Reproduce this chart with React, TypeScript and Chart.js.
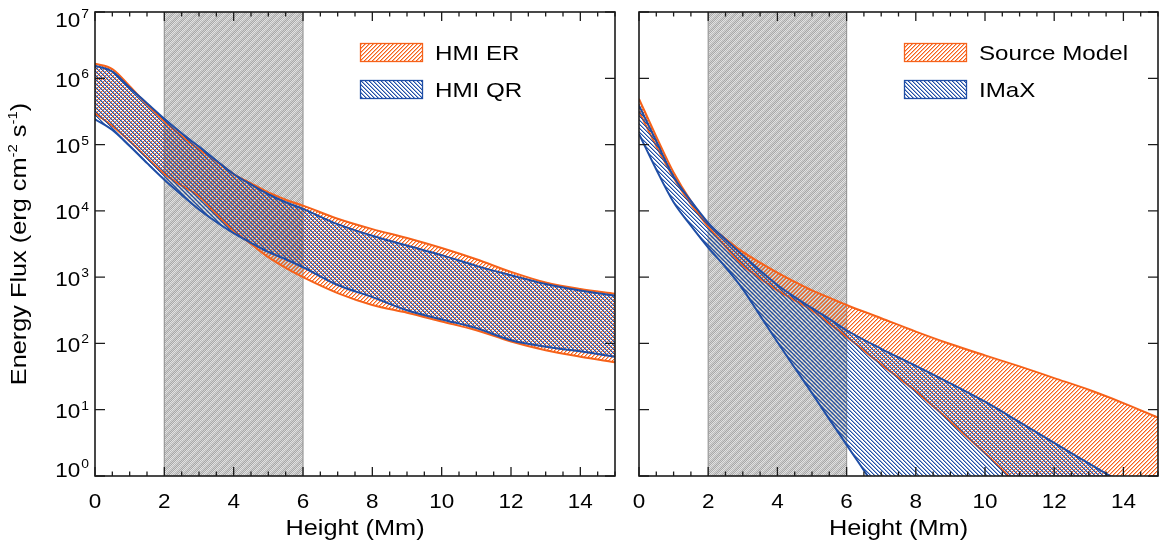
import React, { useEffect, useRef } from "react";
import { Chart, registerables } from "chart.js";

Chart.register(...registerables);

// ---------------- data ----------------
const HEIGHT_LEFT = [0, 0.5, 1, 1.5, 2, 2.5, 3, 3.5, 4, 4.5, 5, 5.5, 6, 7, 8, 9, 10, 11, 12, 13, 14, 15];
const HMI_ER_UPPER = [1.66e6, 1.38e6, 7.6e5, 4.0e5, 2.24e5, 1.35e5, 8.5e4, 5.6e4, 3.6e4, 2.6e4, 1.9e4, 1.48e4, 1.2e4, 7.6e3, 5.3e3, 3.9e3, 2.75e3, 1.86e3, 1.2e3, 830, 660, 560];
const HMI_ER_LOWER = [2.95e5, 1.9e5, 1.12e5, 6.3e4, 3.6e4, 2.4e4, 1.66e4, 8.9e3, 5.0e3, 3.16e3, 2.0e3, 1.38e3, 1.0e3, 575, 380, 290, 214, 158, 107, 79, 63, 52];
const HMI_QR_UPPER = [1.55e6, 1.26e6, 7.2e5, 4.2e5, 2.45e5, 1.48e5, 9.3e4, 5.75e4, 3.6e4, 2.5e4, 1.78e4, 1.35e4, 1.07e4, 6.3e3, 4.2e3, 3.0e3, 2.15e3, 1.48e3, 1.07e3, 790, 630, 525];
const HMI_QR_LOWER = [2.4e5, 1.66e5, 9.5e4, 5.25e4, 2.95e4, 1.74e4, 1.05e4, 6.8e3, 4.6e3, 3.3e3, 2.4e3, 1.86e3, 1.41e3, 760, 500, 316, 230, 170, 112, 89, 76, 63];

const HEIGHT_RIGHT = [0, 0.5, 1, 1.5, 2, 2.5, 3, 3.5, 4, 4.5, 5, 5.5, 6, 7, 8, 9, 10, 11, 12, 13, 14, 15];
const SOURCE_UPPER = [4.9e5, 1.32e5, 3.8e4, 1.41e4, 6.3e3, 3.8e3, 2.4e3, 1.66e3, 1.17e3, 850, 630, 490, 380, 240, 151, 98, 66, 45, 30, 20, 12.6, 7.6];
const SOURCE_LOWER = [3.16e5, 9.5e4, 3.16e4, 1.26e4, 5.75e3, 2.9e3, 1.51e3, 955, 630, 447, 316, 200, 126, 48, 19, 6.6, 2.2, 0.68, 0.2, 0.063, 0.02, 0.0063];
const IMAX_UPPER = [3.9e5, 1.12e5, 3.3e4, 1.41e4, 6.6e3, 3.7e3, 2.14e3, 1.26e3, 760, 500, 340, 234, 158, 83, 46, 25, 13.2, 6.5, 3.16, 1.55, 0.76, 0.37];
const IMAX_LOWER = [1.45e5, 4.2e4, 1.35e4, 6.0e3, 2.8e3, 1.41e3, 660, 263, 105, 43, 17.8, 7.2, 2.95, 0.5, 0.08, 0.0126, 0.002, 3e-4, 5e-5, 8e-6, 1.3e-6, 2e-7];

const X_TICKS = [0, 2, 4, 6, 8, 10, 12, 14];
const X_MINOR_STEP = 0.5;
const X_RANGE = [0, 15];
const Y_EXPONENTS = [0, 1, 2, 3, 4, 5, 6, 7];
const SHADE_RANGE = [2, 6];
const X_TITLE = "Height (Mm)";
const Y_TITLE_PARTS: [string, boolean][] = [
  ["Energy Flux (erg cm", false],
  ["-2", true],
  [" s", false],
  ["-1", true],
  [")", false],
];

// ---------------- styles ----------------
const ORANGE = "#f6621a";
const BLUE = "#1f4ea6";
const FONT_FAMILY = '"Liberation Sans", Arial, Helvetica, sans-serif';
const TEXT_STRETCH = 1.15;
const TICK_STRETCH = 1.07;

function hexToRgb(hex: string): [number, number, number] {
  const n = parseInt(hex.slice(1), 16);
  return [(n >> 16) & 255, (n >> 8) & 255, n & 255];
}

function makeHatch(ctx: CanvasRenderingContext2D, color: string, dir: "/" | "\\") {
  const c = document.createElement("canvas");
  c.width = 4;
  c.height = 4;
  const g = c.getContext("2d")!;
  const img = g.createImageData(4, 4);
  const [r, gg, b] = hexToRgb(color);
  for (let y = 0; y < 4; y++) {
    for (let x = 0; x < 4; x++) {
      const k = dir === "/" ? (x + y) % 4 : (((x - y) % 4) + 4) % 4;
      const a = k === 0 ? 255 : k === 1 ? 120 : 0;
      const i = (y * 4 + x) * 4;
      img.data[i] = r;
      img.data[i + 1] = gg;
      img.data[i + 2] = b;
      img.data[i + 3] = a;
    }
  }
  g.putImageData(img, 0, 0);
  return ctx.createPattern(c, "repeat")!;
}

function makeGray(ctx: CanvasRenderingContext2D) {
  const c = document.createElement("canvas");
  c.width = 8;
  c.height = 8;
  const g = c.getContext("2d")!;
  const img = g.createImageData(8, 8);
  for (let y = 0; y < 8; y++) {
    for (let x = 0; x < 8; x++) {
      const parity = (x + y) & 1;
      const band = (x + y) % 8 < 4;
      const v = band ? (parity ? 168 : 210) : parity ? 186 : 226;
      const i = (y * 8 + x) * 4;
      img.data[i] = v;
      img.data[i + 1] = v;
      img.data[i + 2] = v;
      img.data[i + 3] = 255;
    }
  }
  g.putImageData(img, 0, 0);
  return ctx.createPattern(c, "repeat")!;
}

function drawText(
  ctx: CanvasRenderingContext2D,
  text: string,
  x: number,
  y: number,
  size: number,
  align: "left" | "center" | "right",
  sx: number
) {
  ctx.save();
  ctx.font = `${size}px ${FONT_FAMILY}`;
  const w = ctx.measureText(text).width * sx;
  const left = align === "center" ? x - w / 2 : align === "right" ? x - w : x;
  ctx.translate(left, y);
  ctx.scale(sx, 1);
  ctx.textAlign = "left";
  ctx.textBaseline = "alphabetic";
  ctx.fillStyle = "#000";
  ctx.fillText(text, 0, 0);
  ctx.restore();
  return w;
}

function textWidth(ctx: CanvasRenderingContext2D, text: string, size: number, sx: number) {
  ctx.save();
  ctx.font = `${size}px ${FONT_FAMILY}`;
  const w = ctx.measureText(text).width * sx;
  ctx.restore();
  return w;
}

type Band = {
  label: string;
  upper: number[];
  lower: number[];
  color: string;
  dir: "/" | "\\";
};

type PanelProps = {
  left: number;
  width: number;
  heights: number[];
  bands: Band[]; // first band drawn on top
  legendOrder: number[];
  showYLabels: boolean;
  yAxisWidth: number;
  padRight: number;
};

function Panel({ left, width, heights, bands, legendOrder, showYLabels, yAxisWidth, padRight }: PanelProps) {
  const ref = useRef<HTMLCanvasElement>(null);

  useEffect(() => {
    const canvas = ref.current!;
    const ctx = canvas.getContext("2d")!;
    const patterns = bands.map((b) => makeHatch(ctx, b.color, b.dir));
    const gray = makeGray(ctx);

    const datasets: any[] = [];
    bands.forEach((b, i) => {
      datasets.push({
        label: b.label,
        data: heights.map((h, k) => ({ x: h, y: b.upper[k] })),
        borderColor: b.color,
        borderWidth: 2,
        backgroundColor: patterns[i],
        fill: "+1",
        pointRadius: 0,
        cubicInterpolationMode: "monotone",
        clip: 0,
      });
      datasets.push({
        label: b.label + " (lower)",
        data: heights.map((h, k) => ({ x: h, y: b.lower[k] })),
        borderColor: b.color,
        borderWidth: 2,
        backgroundColor: "transparent",
        fill: false,
        pointRadius: 0,
        cubicInterpolationMode: "monotone",
        clip: 0,
      });
    });

    const decor = {
      id: "panelDecor",
      beforeDatasetsDraw(chart: any) {
        const { ctx: c, chartArea: a, scales } = chart;
        const xs = scales.x;
        const x0 = xs.getPixelForValue(SHADE_RANGE[0]);
        const x1 = xs.getPixelForValue(SHADE_RANGE[1]);
        c.save();
        c.fillStyle = gray;
        c.fillRect(x0, a.top, x1 - x0, a.bottom - a.top);
        c.strokeStyle = "#999999";
        c.lineWidth = 1.2;
        c.beginPath();
        c.moveTo(x0, a.top);
        c.lineTo(x0, a.bottom);
        c.moveTo(x1, a.top);
        c.lineTo(x1, a.bottom);
        c.stroke();
        c.restore();
      },
      afterDraw(chart: any) {
        const { ctx: c, chartArea: a, scales } = chart;
        const xs = scales.x;
        const ys = scales.y;
        c.save();
        // frame
        c.strokeStyle = "#1c1c1c";
        c.lineWidth = 1.6;
        c.strokeRect(a.left, a.top, a.right - a.left, a.bottom - a.top);
        // x ticks (major + minor), bottom and top, pointing inward
        c.lineWidth = 1.3;
        c.beginPath();
        for (let v = X_RANGE[0]; v <= X_RANGE[1] + 1e-9; v += X_MINOR_STEP) {
          const px = xs.getPixelForValue(v);
          const major = xs.ticks.some((t: any) => Math.abs(t.value - v) < 1e-9);
          const L = major ? 9 : 4.5;
          c.moveTo(px, a.bottom);
          c.lineTo(px, a.bottom - L);
          c.moveTo(px, a.top);
          c.lineTo(px, a.top + L);
        }
        // y ticks, left and right
        ys.ticks.forEach((t: any) => {
          const py = ys.getPixelForValue(t.value);
          c.moveTo(a.left, py);
          c.lineTo(a.left + 10, py);
          c.moveTo(a.right, py);
          c.lineTo(a.right - 10, py);
        });
        c.stroke();
        c.restore();

        // x tick labels
        xs.ticks.forEach((t: any) => {
          const px = xs.getPixelForValue(t.value);
          drawText(c, String(t.value), px, 508, 21, "center", TICK_STRETCH);
        });
        // x title
        drawText(c, X_TITLE, (a.left + a.right) / 2, 535, 22, "center", TEXT_STRETCH);

        if (showYLabels) {
          const n = ys.ticks.length;
          ys.ticks.forEach((t: any, i: number) => {
            const py = ys.getPixelForValue(t.value);
            const e = String(Math.round(Math.log10(t.value)));
            const wBase = textWidth(c, "10", 21, TICK_STRETCH);
            const wExp = textWidth(c, e, 13, TICK_STRETCH);
            const right = a.left - 6;
            const x0 = right - wBase - wExp - 1;
            let center = py + 1;
            if (i === 0) center = py - 7;
            if (i === n - 1) center = py + 7;
            const base = center + 7.5;
            drawText(c, "10", x0, base, 21, "left", TICK_STRETCH);
            drawText(c, e, x0 + wBase + 1, base - 8.5, 13, "left", TICK_STRETCH);
          });

          // y title (rotated, with superscripts)
          const parts = Y_TITLE_PARTS.map(([s, sup]) => ({
            s,
            sup,
            w: textWidth(c, s, sup ? 13 : 22, TEXT_STRETCH),
          }));
          const total = parts.reduce((acc, p) => acc + p.w, 0);
          c.save();
          c.translate(26, (a.top + a.bottom) / 2);
          c.rotate(-Math.PI / 2);
          let cx = -total / 2;
          parts.forEach((p) => {
            drawText(c, p.s, cx, p.sup ? -9 : 0, p.sup ? 13 : 22, "left", TEXT_STRETCH);
            cx += p.w;
          });
          c.restore();
        }

        // legend
        const lx = a.left + 265;
        const ly = a.top + 31;
        legendOrder.forEach((bi, row) => {
          const b = bands[bi];
          const y0 = ly + row * 37;
          c.save();
          c.fillStyle = "#fff";
          c.fillRect(lx, y0, 63, 19);
          c.fillStyle = patterns[bi];
          c.fillRect(lx, y0, 63, 19);
          c.strokeStyle = b.color;
          c.lineWidth = 1.3;
          c.strokeRect(lx + 0.5, y0 + 0.5, 62, 18);
          c.restore();
          drawText(c, b.label, lx + 75, y0 + 17, 21, "left", TEXT_STRETCH);
        });
      },
    };

    const chart = new Chart(ctx, {
      type: "line",
      data: { datasets },
      options: {
        animation: false,
        responsive: false,
        maintainAspectRatio: false,
        devicePixelRatio: 1,
        events: [],
        layout: { padding: { top: 12, right: padRight, left: 0, bottom: 0 } },
        plugins: {
          legend: { display: false },
          tooltip: { enabled: false },
          title: { display: false },
        },
        scales: {
          x: {
            type: "linear",
            min: X_RANGE[0],
            max: X_RANGE[1],
            afterFit: (s: any) => {
              s.height = 70;
            },
            afterBuildTicks: (s: any) => {
              s.ticks = X_TICKS.map((v) => ({ value: v }));
            },
            ticks: { display: false },
            grid: { display: false, drawTicks: false },
            border: { display: false },
          },
          y: {
            type: "logarithmic",
            min: Math.pow(10, Y_EXPONENTS[0]),
            max: Math.pow(10, Y_EXPONENTS[Y_EXPONENTS.length - 1]),
            afterFit: (s: any) => {
              s.width = yAxisWidth;
            },
            afterBuildTicks: (s: any) => {
              s.ticks = Y_EXPONENTS.map((e) => ({ value: Math.pow(10, e) }));
            },
            ticks: { display: false },
            grid: { display: false, drawTicks: false },
            border: { display: false },
          },
        },
      } as any,
      plugins: [decor as any],
    });
    return () => chart.destroy();
  }, []);

  return (
    <canvas
      ref={ref}
      width={width}
      height={546}
      style={{ position: "absolute", left, top: 0, width, height: 546 }}
    />
  );
}

export default function App() {
  const leftBands: Band[] = [
    { label: "HMI QR", upper: HMI_QR_UPPER, lower: HMI_QR_LOWER, color: BLUE, dir: "\\" },
    { label: "HMI ER", upper: HMI_ER_UPPER, lower: HMI_ER_LOWER, color: ORANGE, dir: "/" },
  ];
  const rightBands: Band[] = [
    { label: "IMaX", upper: IMAX_UPPER, lower: IMAX_LOWER, color: BLUE, dir: "\\" },
    { label: "Source Model", upper: SOURCE_UPPER, lower: SOURCE_LOWER, color: ORANGE, dir: "/" },
  ];
  return (
    <div
      style={{
        position: "fixed",
        left: 0,
        top: 0,
        width: 1159,
        height: 546,
        background: "#fff",
        overflow: "hidden",
      }}
    >
      <Panel
        left={0}
        width={627}
        heights={HEIGHT_LEFT}
        bands={leftBands}
        legendOrder={[1, 0]}
        showYLabels={true}
        yAxisWidth={95}
        padRight={12}
      />
      <Panel
        left={627}
        width={532}
        heights={HEIGHT_RIGHT}
        bands={rightBands}
        legendOrder={[1, 0]}
        showYLabels={false}
        yAxisWidth={12}
        padRight={1}
      />
    </div>
  );
}
